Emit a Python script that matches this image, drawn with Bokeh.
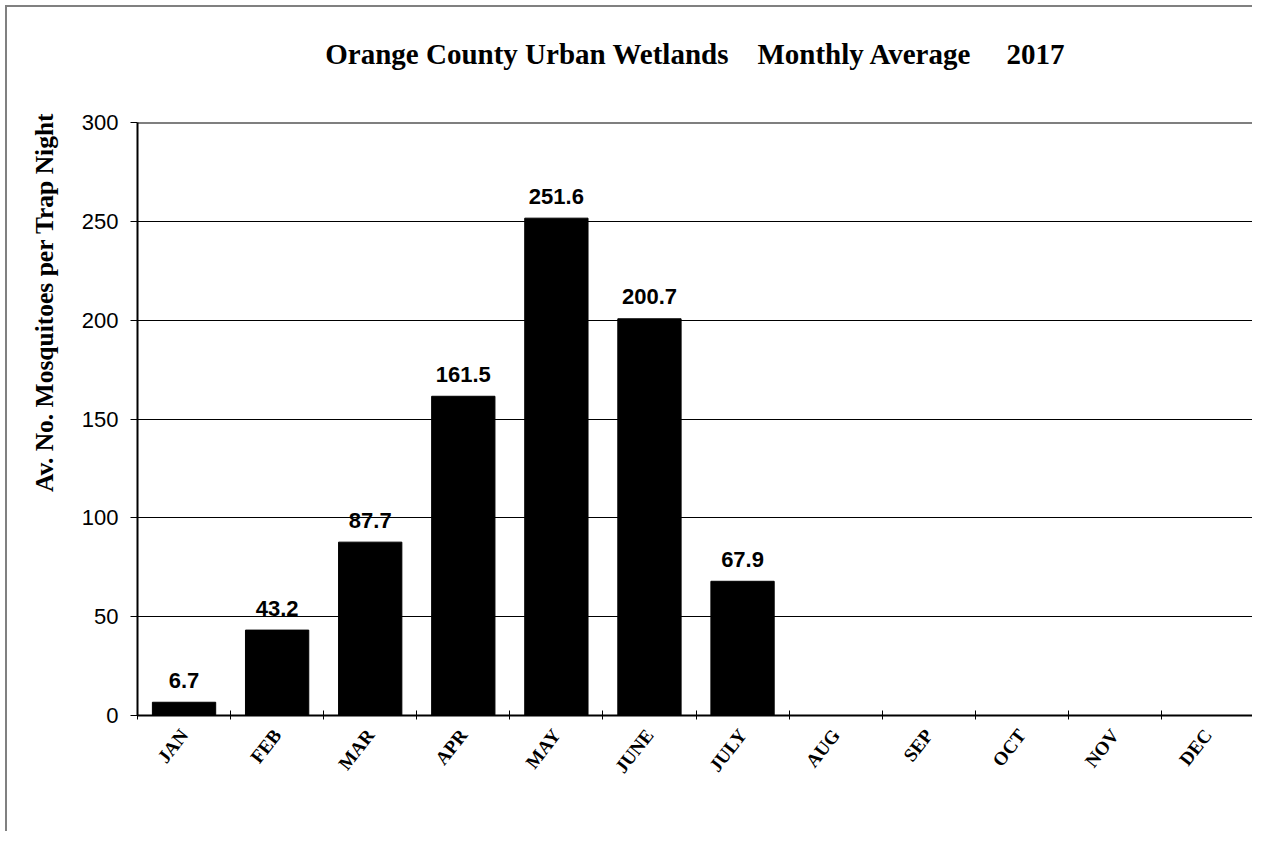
import math
from bokeh.plotting import figure
from bokeh.models import Range1d, FixedTicker, Span, CustomJSTickFormatter, Title
from bokeh.embed import file_html
from bokeh.resources import INLINE
from bokeh.core.properties import value

NB = "\u00a0"
title_text = "Orange County Urban Wetlands" + NB * 4 + "Monthly Average" + NB * 5 + "2017"
y_label = "Av. No. Mosquitoes per Trap Night"
months = ["JAN", "FEB", "MAR", "APR", "MAY", "JUNE", "JULY", "AUG", "SEP", "OCT", "NOV", "DEC"]
values = [6.7, 43.2, 87.7, 161.5, 251.6, 200.7, 67.9]
value_labels = ["6.7", "43.2", "87.7", "161.5", "251.6", "200.7", "67.9"]
y_ticks = [0, 50, 100, 150, 200, 250, 300]

xs = [i + 0.5 for i in range(len(values))]

p = figure(width=1247, height=826, output_backend="svg", toolbar_location=None,
           x_range=Range1d(0, len(months)), y_range=Range1d(y_ticks[0], y_ticks[-1]),
           min_border_left=130, min_border_top=115, min_border_bottom=118, min_border_right=0)
p.styles = {"margin-left": "5px", "margin-top": "5px",
            "border-left": "2px solid #808080", "border-top": "2px solid #808080"}
p.outline_line_color = None
p.background_fill_color = "white"
p.border_fill_color = "white"

# spacer between the plot area and the chart title
p.add_layout(Title(text=NB, text_font_size="10px", standoff=40), "above")
# chart title
p.add_layout(Title(text=title_text, align="center", standoff=0,
                   text_font="Liberation Serif", text_font_size="29px",
                   text_font_style="bold", text_color="black"), "above")

# y-axis title
p.add_layout(Title(text=y_label, align="right", offset=-10, standoff=40,
                   text_font="Liberation Serif", text_font_size="25.5px",
                   text_font_style="bold", text_color="black"), "left")

# bars
p.vbar(x=xs, top=values, width=0.68, fill_color="black", line_color="black")
p.text(x=xs, y=values, text=value_labels, text_align="center", text_baseline="alphabetic",
       y_offset=-22, text_font=value("Liberation Sans"), text_font_style="bold",
       text_font_size="22px", text_color="black")

# x axis
p.xaxis.ticker = FixedTicker(ticks=[i + 0.5 for i in range(len(months))],
                             minor_ticks=list(range(len(months) + 1)))
p.xaxis.formatter = CustomJSTickFormatter(args=dict(labels=months),
                                          code="return labels[Math.floor(tick)] || '';")
p.xaxis.major_tick_line_color = None
p.xaxis.major_tick_in = 0
p.xaxis.major_tick_out = 0
p.xaxis.minor_tick_in = 5
p.xaxis.minor_tick_out = 4
p.xaxis.minor_tick_line_color = "black"
p.xaxis.minor_tick_line_width = 1
p.xaxis.axis_line_color = "black"
p.xaxis.axis_line_width = 2
p.xaxis.major_label_orientation = math.radians(52)
p.xaxis.major_label_standoff = 12
p.xaxis.major_label_text_font = "Liberation Serif"
p.xaxis.major_label_text_font_style = "bold"
p.xaxis.major_label_text_font_size = "19px"
p.xaxis.major_label_text_color = "black"

# y axis
p.yaxis.ticker = FixedTicker(ticks=y_ticks)
p.yaxis.major_tick_in = 0
p.yaxis.major_tick_out = 7
p.yaxis.major_tick_line_color = "black"
p.yaxis.minor_tick_line_color = None
p.yaxis.axis_line_color = "black"
p.yaxis.axis_line_width = 2
p.yaxis.major_label_standoff = 12
p.yaxis.major_label_text_font = "Liberation Sans"
p.yaxis.major_label_text_font_size = "22px"
p.yaxis.major_label_text_color = "black"

p.xgrid.visible = False
p.ygrid.ticker = FixedTicker(ticks=y_ticks[1:-1])
p.ygrid.grid_line_color = "black"
p.ygrid.grid_line_width = 1

p.add_layout(Span(location=y_ticks[-1], dimension="width", line_color="black", line_width=2))

open("out.html", "w").write(file_html(p, INLINE))
